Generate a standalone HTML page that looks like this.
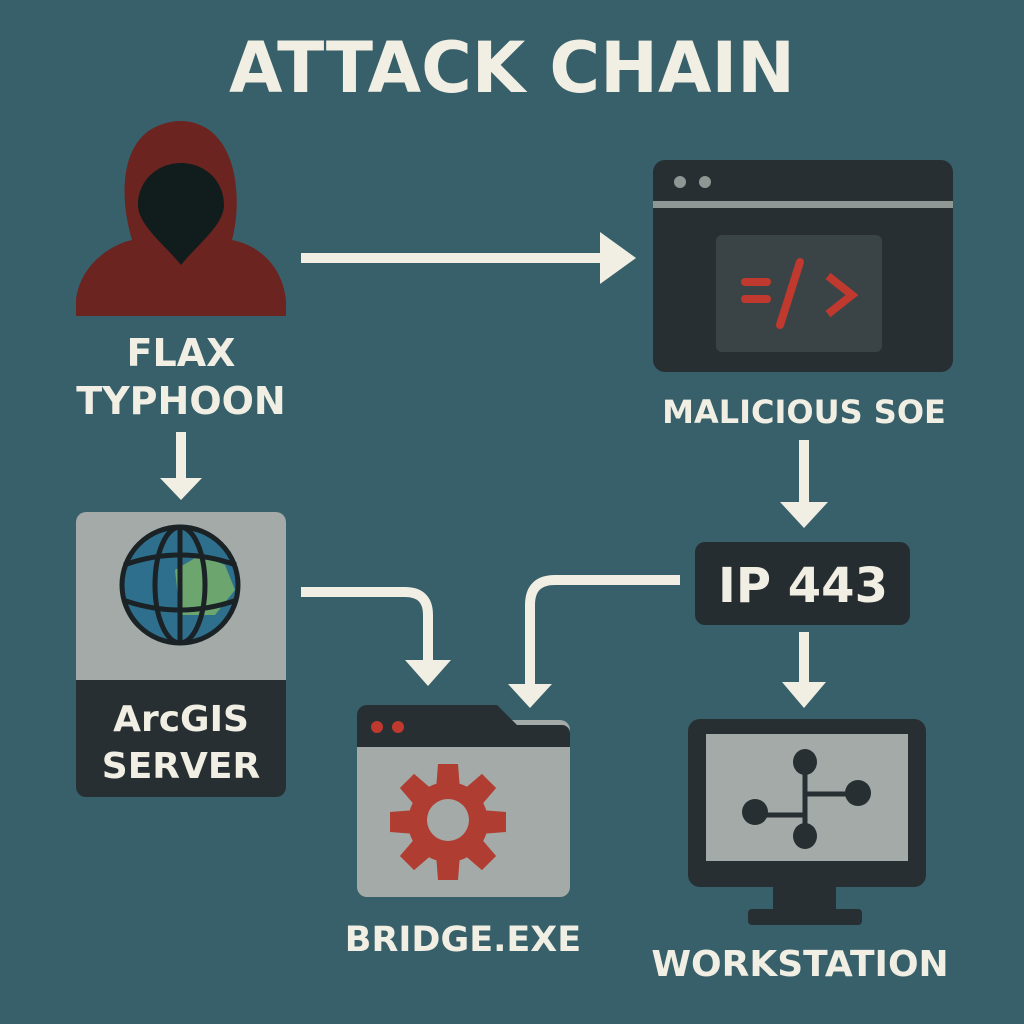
<!DOCTYPE html>
<html><head><style>
html,body{margin:0;padding:0;background:#37606a;}
svg{display:block}
text{font-family:"DejaVu Sans","Liberation Sans",sans-serif;font-weight:bold;fill:#f1eee3;text-anchor:middle}
</style></head><body>
<svg width="1024" height="1024" viewBox="0 0 1024 1024" xmlns="http://www.w3.org/2000/svg">
<rect width="1024" height="1024" fill="#37606a"/>
<text x="512" y="92" font-size="70" textLength="566" lengthAdjust="spacingAndGlyphs">ATTACK CHAIN</text>

<!-- hoodie -->
<path d="M76,316 L76,300 C80,265 110,245 132,240 C120,200 120,150 150,130 C175,115 200,120 215,135 C240,160 240,210 232,240 C258,245 282,265 286,300 L286,316 Z" fill="#6b2420"/>
<path d="M181,265 C165,245 138,225 138,205 C138,180 158,163 181,163 C204,163 224,180 224,205 C224,225 197,245 181,265 Z" fill="#111c1d"/>
<text x="181" y="366" font-size="38">FLAX</text>
<text x="181" y="414" font-size="38">TYPHOON</text>

<!-- arrows -->
<g stroke="#f1eee3" stroke-width="10" fill="none">
<line x1="181" y1="432" x2="181" y2="482"/>
<line x1="301" y1="258" x2="605" y2="258"/>
<line x1="804" y1="440" x2="804" y2="505"/>
<path d="M301,592 L405,592 Q428,592 428,615 L428,665"/>
<path d="M680,580 L555,580 Q530,580 530,605 L530,688"/>
<line x1="804" y1="632" x2="804" y2="685"/>
</g>
<g fill="#f1eee3">
<polygon points="160,478 202,478 181,500"/>
<polygon points="600,232 636,258 600,284"/>
<polygon points="780,502 828,502 804,528"/>
<polygon points="405,660 451,660 428,686"/>
<polygon points="508,684 552,684 530,708"/>
<polygon points="782,682 826,682 804,708"/>
</g>

<!-- browser -->
<rect x="653" y="160" width="300" height="212" rx="12" fill="#272f33"/>
<rect x="653" y="201" width="300" height="7" fill="#8f9795"/>
<circle cx="680" cy="182" r="6" fill="#8f9795"/><circle cx="705" cy="182" r="6" fill="#8f9795"/>
<rect x="716" y="235" width="166" height="117" rx="6" fill="#3a4446"/>
<g stroke="#c0392e" stroke-width="8" fill="none" stroke-linecap="round">
<line x1="745" y1="282" x2="767" y2="282"/><line x1="745" y1="299" x2="767" y2="299"/>
<line x1="800" y1="262" x2="780" y2="325"/>
<polyline points="828,276 852,295 828,314" stroke-linecap="butt"/>
</g>
<text x="804" y="423" font-size="32">MALICIOUS SOE</text>

<!-- IP box -->
<rect x="695" y="542" width="215" height="83" rx="10" fill="#252d31"/>
<text x="803" y="602" font-size="48">IP 443</text>

<!-- ArcGIS -->
<rect x="76" y="512" width="210" height="285" rx="10" fill="#272f33"/>
<path d="M86,512 H276 A10,10 0 0 1 286,522 V680 H76 V522 A10,10 0 0 1 86,512 Z" fill="#a3aaa8"/>
<circle cx="180" cy="585" r="58" fill="#2d6f8c" stroke="#1a2225" stroke-width="5"/>
<path d="M175,570 L200,555 L225,565 L235,590 L215,615 L180,615 Z" fill="#6da56e"/>
<g stroke="#1a2225" stroke-width="5" fill="none">
<ellipse cx="180" cy="585" rx="25" ry="58"/>
<path d="M124,565 Q180,545 236,565"/><path d="M123,600 Q180,620 237,600"/>
<line x1="180" y1="527" x2="180" y2="643"/>
</g>
<text x="181" y="731" font-size="36">ArcGIS</text>
<text x="181" y="778" font-size="36">SERVER</text>

<!-- bridge -->
<rect x="357" y="720" width="213" height="177" rx="10" fill="#a3aaa8"/>
<path d="M357,747 V715 A10,10 0 0 1 367,705 H497 L517,725 H562 A8,8 0 0 1 570,733 V747 Z" fill="#272f33"/>
<circle cx="377" cy="727" r="6" fill="#c0392e"/><circle cx="398" cy="727" r="6" fill="#c0392e"/>
<g fill="#b03d31">
<circle cx="448" cy="822" r="40"/>
<g id="t"><path d="M436,790 L438,764 H458 L460,790 Z"/></g>
<use href="#t" transform="rotate(45 448 822)"/><use href="#t" transform="rotate(90 448 822)"/><use href="#t" transform="rotate(135 448 822)"/>
<use href="#t" transform="rotate(180 448 822)"/><use href="#t" transform="rotate(225 448 822)"/><use href="#t" transform="rotate(270 448 822)"/><use href="#t" transform="rotate(315 448 822)"/>
</g>
<circle cx="448" cy="820" r="21" fill="#a3aaa8"/>
<text x="463" y="951" font-size="35">BRIDGE.EXE</text>

<!-- monitor -->
<rect x="688" y="719" width="238" height="168" rx="12" fill="#272f33"/>
<rect x="706" y="734" width="202" height="127" fill="#a3aaa8"/>
<rect x="773" y="885" width="63" height="25" fill="#272f33"/>
<rect x="748" y="909" width="114" height="16" rx="4" fill="#272f33"/>
<g stroke="#272f33" stroke-width="5"><line x1="805" y1="765" x2="805" y2="836"/><line x1="755" y1="815" x2="805" y2="815"/><line x1="805" y1="794" x2="857" y2="794"/></g>
<g fill="#272f33"><ellipse cx="805" cy="762" rx="12" ry="13"/><ellipse cx="805" cy="836" rx="12" ry="13"/><ellipse cx="755" cy="812" rx="13" ry="13"/><ellipse cx="858" cy="793" rx="13" ry="13"/></g>
<text x="800" y="976" font-size="36">WORKSTATION</text>
</svg>
</body></html>
